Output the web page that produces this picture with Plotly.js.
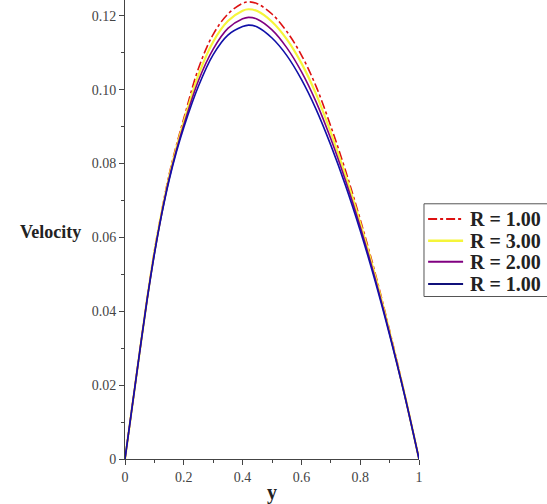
<!DOCTYPE html>
<html>
<head>
<meta charset="utf-8">
<script src="https://cdn.plot.ly/plotly-3.0.1.min.js"></script>
<style>html,body{margin:0;padding:0;background:#fff;}#chart{width:547px;height:504px;}</style>
</head>
<body>
<div id="chart"></div>
<script>
var yPos      = [0, 0.025, 0.05, 0.075, 0.1, 0.125, 0.15, 0.175, 0.2, 0.25, 0.3, 0.35, 0.4, 0.42, 0.45, 0.5, 0.55, 0.6, 0.65, 0.7, 0.75, 0.8, 0.85, 0.9, 0.95, 1.0];
var velRed    = [0, 0.0146, 0.0291, 0.0433, 0.0563, 0.0672, 0.0770, 0.0850, 0.0922, 0.1058, 0.1150, 0.1205, 0.1234, 0.1238, 0.1233, 0.1205, 0.1158, 0.1094, 0.1009, 0.0901, 0.0781, 0.0649, 0.0506, 0.0348, 0.0180, 0];
var velYellow = [0, 0.0145, 0.0290, 0.0432, 0.0560, 0.0668, 0.0764, 0.0843, 0.0913, 0.1040, 0.1130, 0.1186, 0.1214, 0.1218, 0.1213, 0.1184, 0.1137, 0.1072, 0.0988, 0.0884, 0.0768, 0.0639, 0.0499, 0.0344, 0.0179, 0];
var velPurple = [0, 0.0145, 0.0290, 0.0431, 0.0557, 0.0665, 0.0759, 0.0837, 0.0905, 0.1025, 0.1110, 0.1166, 0.1192, 0.1196, 0.1191, 0.1162, 0.1114, 0.1049, 0.0967, 0.0867, 0.0754, 0.0629, 0.0491, 0.0340, 0.0177, 0];
var velBlue   = [0, 0.0145, 0.0290, 0.0430, 0.0555, 0.0663, 0.0755, 0.0832, 0.0898, 0.1010, 0.1095, 0.1148, 0.1171, 0.1175, 0.1170, 0.1140, 0.1093, 0.1028, 0.0947, 0.0850, 0.0741, 0.0619, 0.0484, 0.0336, 0.0176, 0];
var seriesNames = ["R = 1.00", "R = 3.00", "R = 2.00", "R = 1.00"];
var xTickVals = [0, 0.2, 0.4, 0.6, 0.8, 1];
var xTickText = ["0", "0.2", "0.4", "0.6", "0.8", "1"];
var yTickVals = [0, 0.02, 0.04, 0.06, 0.08, 0.10, 0.12];
var yTickText = ["0", "0.02", "0.04", "0.06", "0.08", "0.10", "0.12"];

var lineStyles = [
  {color: "#dd1111", width: 1.6, dash: "dashdot", shape: "spline"},
  {color: "#f5f53a", width: 2.2, dash: "solid", shape: "spline"},
  {color: "#800080", width: 1.6, dash: "solid", shape: "spline"},
  {color: "#1010a8", width: 1.6, dash: "solid", shape: "spline"}
];
var allY = [velRed, velYellow, velPurple, velBlue];
var traces = allY.map(function (vals, i) {
  return {x: yPos, y: vals, name: seriesNames[i], mode: "lines", line: lineStyles[i], showlegend: false};
});

var serif = "Liberation Serif";
var tickFont = {family: serif, size: 14, color: "#444"};

// manual legend (box, samples, labels) in paper coordinates
var shapes = [{type: "rect", xref: "paper", yref: "paper", x0: 1.017, x1: 1.6, y0: 0.354, y1: 0.556,
  line: {color: "#555", width: 1}, fillcolor: "#fff", layer: "above"}];
var annotations = [];
var legendY = [0.523, 0.4755, 0.4295, 0.381];
var legendLineColors = ["#dd1111", "#f5f53a", "#800080", "#10107a"];
seriesNames.forEach(function (nm, i) {
  shapes.push({type: "line", xref: "paper", yref: "paper", x0: 1.031, x1: 1.150, y0: legendY[i], y1: legendY[i],
    line: {color: legendLineColors[i], width: i === 1 ? 2.4 : 2, dash: i === 0 ? "dashdot" : "solid"}, layer: "above"});
  annotations.push({text: "<b>" + nm + "</b>", xref: "paper", yref: "paper", x: 1.166, y: legendY[i],
    xanchor: "left", yanchor: "middle", showarrow: false,
    font: {family: serif, size: 20, color: "#222"}});
});
annotations.push({
  text: "<b>Velocity</b>", xref: "paper", yref: "paper", x: -0.142, y: 0.494, xanchor: "right", yanchor: "middle",
  showarrow: false, font: {family: serif, size: 18, color: "#222"}
});

var layout = {
  width: 547, height: 504,
  margin: {l: 125, r: 128, t: 0, b: 45, autoexpand: false},
  paper_bgcolor: "#fff", plot_bgcolor: "#fff",
  showlegend: false,
  font: {family: serif},
  xaxis: {
    range: [0, 1], tickvals: xTickVals, ticktext: xTickText,
    ticks: "outside", ticklen: 5, tickcolor: "#444", showline: true, linecolor: "#444", linewidth: 1,
    showgrid: false, zeroline: false, tickfont: tickFont,
    minor: {tickvals: [0.1, 0.3, 0.5, 0.7, 0.9], ticks: "outside", ticklen: 3, tickcolor: "#444"},
    title: {text: "<b>y</b>", font: {family: serif, size: 20, color: "#222"}, standoff: 4}
  },
  yaxis: {
    range: [0, 0.1243], tickvals: yTickVals, ticktext: yTickText,
    ticks: "outside", ticklen: 5, tickcolor: "#444", showline: true, linecolor: "#444", linewidth: 1,
    showgrid: false, zeroline: false, tickfont: tickFont,
    minor: {tickvals: [0.01, 0.03, 0.05, 0.07, 0.09, 0.11], ticks: "outside", ticklen: 3, tickcolor: "#444"}
  },
  shapes: shapes,
  annotations: annotations
};
Plotly.newPlot("chart", traces, layout, {displayModeBar: false, staticPlot: true});
</script>
</body>
</html>
